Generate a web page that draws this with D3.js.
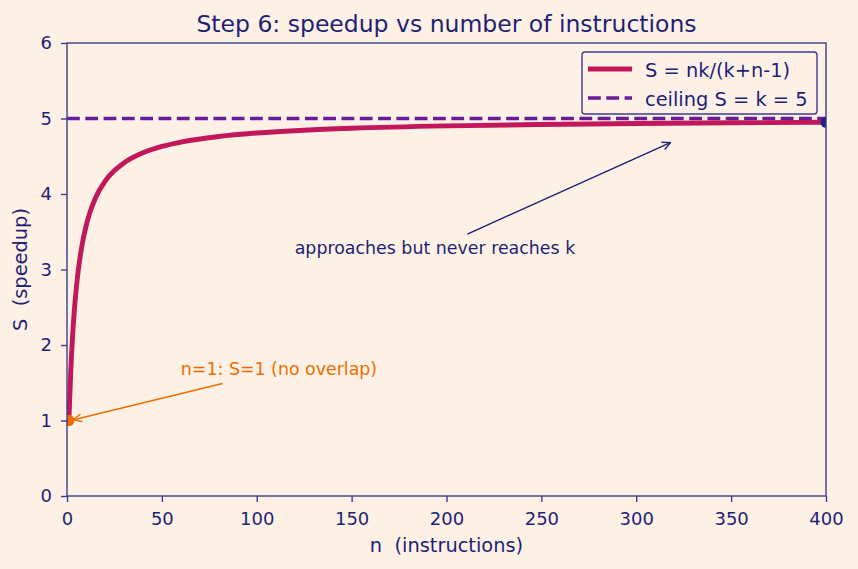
<!DOCTYPE html>
<html>
<head>
<meta charset="utf-8">
<script src="https://cdn.jsdelivr.net/npm/d3@7"></script>
<style>
  body { margin: 0; background: #fdf1e6; }
  text { font-family: "DejaVu Sans", sans-serif; }
</style>
</head>
<body>
<div id="chart-area"></div>
<script>
// speedup curve, values
let nValues = [1, 2, 3, 4, 5, 6, 8, 10, 12, 15, 20, 25, 30, 40, 50, 60, 80, 100, 125, 150, 200, 250, 300, 350, 400];
let sValues = [1, 1.667, 2.143, 2.5, 2.778, 3.0, 3.333, 3.571, 3.75, 3.947, 4.167, 4.31, 4.412, 4.545, 4.63, 4.688, 4.762, 4.808, 4.845, 4.87, 4.902, 4.921, 4.934, 4.943, 4.95];
let ceiling = 5;
let xTicks = [0, 50, 100, 150, 200, 250, 300, 350, 400];
let yTicks = [0, 1, 2, 3, 4, 5, 6];

let margin = { left: 67, right: 32, top: 43, bottom: 73 };
let width = 858 - margin.left - margin.right;
let height = 569 - margin.top - margin.bottom;

let ink = '#1f1f75';
let axisColor = '#3d3d8c';

let svg = d3.select('#chart-area').append('svg')
  .attr('width', 858)
  .attr('height', 569);

svg.append('rect').attr('width', 858).attr('height', 569).attr('fill', '#fdf1e6');

let defs = svg.append('defs');
defs.append('clipPath').attr('id', 'plotClip')
  .append('rect').attr('width', width).attr('height', height);

function arrowHead(id, color) {
  defs.append('marker')
    .attr('id', id)
    .attr('viewBox', '0 0 10 10')
    .attr('refX', 9).attr('refY', 5)
    .attr('markerWidth', 10).attr('markerHeight', 10)
    .attr('markerUnits', 'userSpaceOnUse')
    .attr('orient', 'auto')
    .append('path')
    .attr('d', 'M1,1 L9,5 L1,9')
    .attr('fill', 'none')
    .attr('stroke', color)
    .attr('stroke-width', 1.4);
}
arrowHead('arrNavy', ink);
arrowHead('arrOrange', '#ef6c00');

let g = svg.append('g')
  .attr('transform', `translate(${margin.left}, ${margin.top})`);

let x = d3.scaleLinear().domain([0, 400]).range([0, width]);
let y = d3.scaleLinear().domain([0, 6]).range([height, 0]);

// title
svg.append('text')
  .attr('x', margin.left + width / 2)
  .attr('y', 32)
  .attr('text-anchor', 'middle')
  .attr('font-size', 23.5)
  .attr('fill', ink)
  .text('Step 6: speedup vs number of instructions');

let plot = g.append('g').attr('clip-path', 'url(#plotClip)');

// ceiling line
plot.append('line')
  .attr('x1', x(0)).attr('x2', x(400))
  .attr('y1', y(ceiling)).attr('y2', y(ceiling))
  .attr('stroke', '#6a1b9a')
  .attr('stroke-width', 3.5)
  .attr('stroke-dasharray', '12.8,5.5');

// curve
let data = nValues.map((n, i) => ({ n: n, s: sValues[i] }));
let line = d3.line()
  .x(d => x(d.n))
  .y(d => y(d.s))
  .curve(d3.curveMonotoneX);

plot.append('path')
  .datum(data)
  .attr('d', line)
  .attr('fill', 'none')
  .attr('stroke', '#c2185b')
  .attr('stroke-width', 4.9)
  .attr('stroke-linejoin', 'round');

// end points
plot.append('circle')
  .attr('cx', x(nValues[0])).attr('cy', y(sValues[0]))
  .attr('r', 5.5).attr('fill', '#ef6c00');
plot.append('circle')
  .attr('cx', x(nValues[nValues.length - 1])).attr('cy', y(sValues[sValues.length - 1]))
  .attr('r', 5.5).attr('fill', '#1a237e');

// axes
let bottomAxis = d3.axisBottom(x).tickValues(xTicks).tickSize(6).tickPadding(10);
let gx = g.append('g')
  .attr('transform', `translate(0, ${height})`)
  .call(bottomAxis);
let leftAxis = d3.axisLeft(y).tickValues(yTicks).tickSize(6).tickPadding(9).tickFormat(d3.format('d'));
let gy = g.append('g').call(leftAxis);

[gx, gy].forEach(a => {
  a.select('.domain').remove();
  a.selectAll('line').attr('stroke', axisColor).attr('stroke-width', 1.4);
  a.selectAll('text').attr('fill', ink).attr('font-size', 18)
    .style('font-family', '"DejaVu Sans", sans-serif');
});

// frame
g.append('rect')
  .attr('width', width).attr('height', height)
  .attr('fill', 'none')
  .attr('stroke', axisColor)
  .attr('stroke-width', 1.4);

// axis labels
svg.append('text')
  .attr('x', margin.left + width / 2)
  .attr('y', 552)
  .attr('text-anchor', 'middle')
  .attr('font-size', 19.4)
  .attr('fill', ink)
  .attr('xml:space', 'preserve')
  .text('n  (instructions)');

svg.append('text')
  .attr('transform', `translate(27, ${margin.top + height / 2}) rotate(-90)`)
  .attr('text-anchor', 'middle')
  .attr('font-size', 19.4)
  .attr('fill', ink)
  .attr('xml:space', 'preserve')
  .text('S  (speedup)');

// annotations
g.append('line')
  .attr('x1', x(211)).attr('y1', y(3.47))
  .attr('x2', x(318)).attr('y2', y(4.68))
  .attr('stroke', ink).attr('stroke-width', 1.4)
  .attr('marker-end', 'url(#arrNavy)');
g.append('text')
  .attr('x', x(120)).attr('y', y(3.2))
  .attr('font-size', 17.4)
  .attr('fill', ink)
  .text('approaches but never reaches k');

g.append('line')
  .attr('x1', x(82)).attr('y1', y(1.49))
  .attr('x2', x(3.5)).attr('y2', y(1.01))
  .attr('stroke', '#ef6c00').attr('stroke-width', 1.4)
  .attr('marker-end', 'url(#arrOrange)');
g.append('text')
  .attr('x', x(60)).attr('y', y(1.6))
  .attr('font-size', 17.4)
  .attr('fill', '#ef6c00')
  .text('n=1: S=1 (no overlap)');

// legend
let legend = svg.append('g').attr('transform', 'translate(582, 52)');
legend.append('rect')
  .attr('width', 235).attr('height', 62)
  .attr('rx', 3)
  .attr('fill', '#fdf1e6')
  .attr('fill-opacity', 0.85)
  .attr('stroke', axisColor)
  .attr('stroke-width', 1.4);
let legendItems = [
  { label: 'S = nk/(k+n-1)', color: '#c2185b', w: 4.9, dash: null },
  { label: 'ceiling S = k = 5', color: '#6a1b9a', w: 3.5, dash: '12.8,5.5' }
];
legendItems.forEach((d, i) => {
  let yy = 17 + i * 29;
  legend.append('line')
    .attr('x1', 6).attr('x2', 50)
    .attr('y1', yy).attr('y2', yy)
    .attr('stroke', d.color)
    .attr('stroke-width', d.w)
    .attr('stroke-dasharray', d.dash);
  legend.append('text')
    .attr('x', 63).attr('y', yy + 7.5)
    .attr('font-size', 19.4)
    .attr('fill', ink)
    .text(d.label);
});
</script>
</body>
</html>
